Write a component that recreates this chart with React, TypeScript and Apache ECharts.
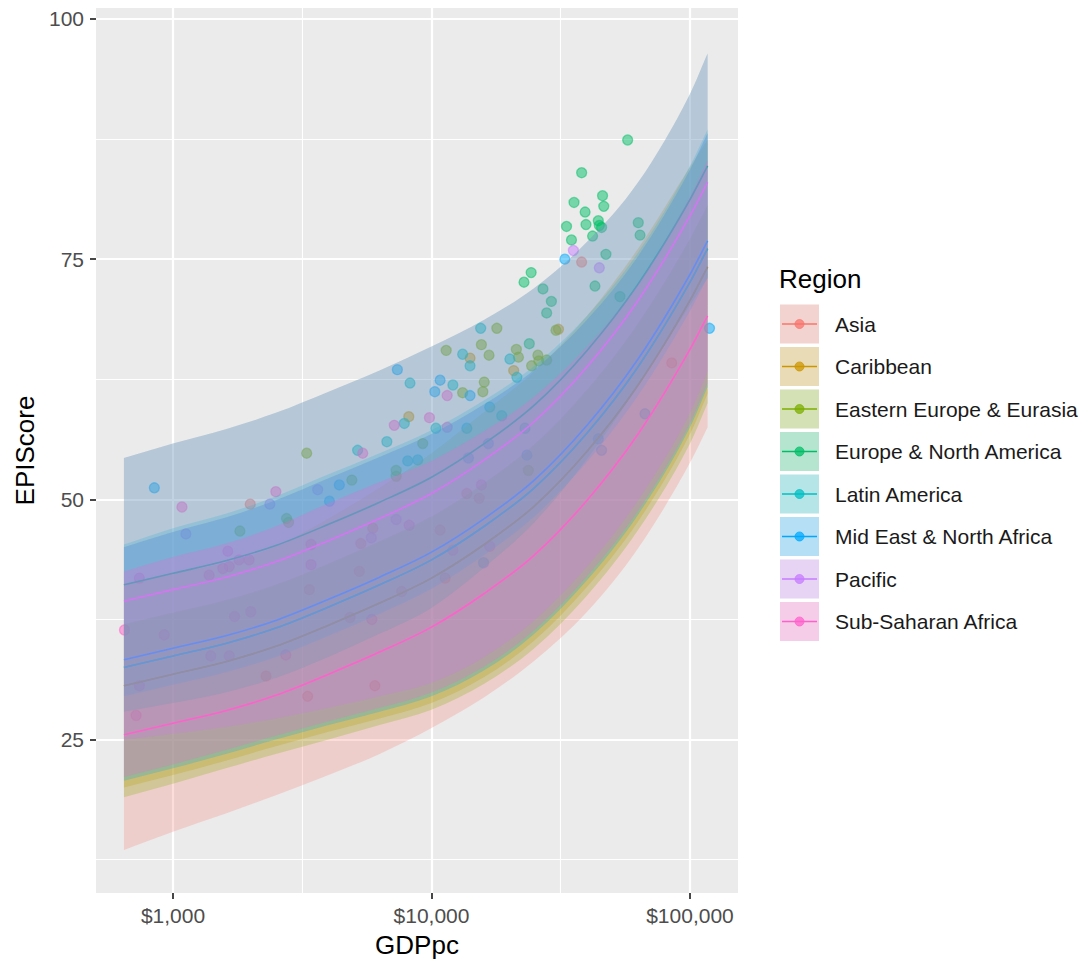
import React, { useEffect, useRef } from "react";
import * as echarts from "echarts";

// Regions, in plotting order, with the default ggplot hue palette
const regions = [
  "Asia",
  "Caribbean",
  "Eastern Europe & Eurasia",
  "Europe & North America",
  "Latin America",
  "Mid East & North Africa",
  "Pacific",
  "Sub-Saharan Africa",
];
const regionColors = ["#F8766D", "#CD9600", "#7CAE00", "#00BE67", "#00BFC4", "#00A9FF", "#C77CFF", "#FF61CC"];

// GDP per capita values at which the fitted curves and their confidence bands are evaluated
const gdpGrid = [646, 1000, 1600, 2500, 4000, 6300, 10000, 16000, 25000, 40000, 63000, 100000, 117000];

// Fitted EPI score and band limits per region
const fitAsia = [30.6, 31.8, 33.1, 34.7, 36.9, 39.2, 41.8, 45.3, 49.3, 55.0, 61.9, 70.7, 74.2];
const lowAsia = [13.5, 15.4, 17.3, 19.2, 21.3, 23.5, 26.2, 29.4, 33.2, 38.3, 44.9, 53.8, 57.5];
const highAsia = [45.0, 46.6, 48.1, 49.9, 52.2, 54.4, 56.8, 59.9, 63.5, 68.7, 75.3, 84.3, 88.1];

const fitCaribbean = [30.6, 31.8, 33.1, 34.7, 36.9, 39.2, 41.8, 45.3, 49.3, 55.0, 61.9, 70.7, 74.2];
const lowCaribbean = [20.0, 21.3, 22.8, 24.3, 25.8, 27.2, 28.8, 31.5, 35.3, 40.9, 47.7, 56.8, 61.0];
const highCaribbean = [41.2, 42.3, 43.4, 45.1, 48.0, 51.2, 54.8, 59.1, 63.3, 69.1, 76.1, 84.6, 87.4];

const fitEasternEurope = [32.5, 33.7, 35.0, 36.6, 38.8, 41.1, 43.7, 47.2, 51.2, 56.9, 63.8, 72.6, 76.1];
const lowEasternEurope = [19.0, 20.4, 22.0, 23.5, 25.0, 26.5, 28.1, 30.8, 34.5, 40.0, 46.8, 55.8, 60.0];
const highEasternEurope = [37.0, 38.2, 39.5, 41.1, 43.3, 45.6, 48.2, 51.7, 55.7, 61.4, 68.3, 77.1, 80.6];

const fitEuropeNA = [41.1, 42.3, 43.6, 45.2, 47.4, 49.7, 52.3, 55.8, 59.8, 65.5, 72.4, 81.2, 84.7];
const lowEuropeNA = [27.9, 28.8, 29.9, 31.4, 33.6, 36.0, 38.7, 42.9, 47.6, 54.2, 61.8, 70.2, 73.0];
const highEuropeNA = [54.3, 55.8, 57.3, 59.0, 61.2, 63.4, 65.9, 68.7, 72.0, 76.8, 83.0, 92.2, 96.4];

const fitLatinAmerica = [32.5, 33.7, 35.0, 36.6, 38.8, 41.1, 43.7, 47.2, 51.2, 56.9, 63.8, 72.6, 76.1];
const lowLatinAmerica = [29.5, 30.7, 32.0, 33.6, 35.8, 38.1, 40.7, 44.2, 48.2, 53.9, 60.8, 69.6, 73.1];
const highLatinAmerica = [45.3, 47.0, 48.5, 50.3, 52.6, 54.8, 57.2, 60.3, 63.9, 69.1, 75.7, 84.7, 88.5];

const fitMENA = [33.3, 34.5, 35.8, 37.4, 39.6, 41.9, 44.5, 48.0, 52.0, 57.7, 64.6, 73.4, 76.9];
const lowMENA = [20.7, 22.0, 23.5, 25.0, 26.5, 27.9, 29.5, 32.2, 36.0, 41.6, 48.4, 57.5, 61.7];
const highMENA = [45.0, 46.6, 48.1, 49.9, 52.2, 54.4, 56.8, 59.9, 63.5, 68.7, 75.3, 84.3, 88.1];

const fitPacific = [39.4, 40.6, 41.9, 43.5, 45.7, 48.0, 50.6, 54.1, 58.1, 63.8, 70.7, 79.5, 83.0];
const lowPacific = [25.0, 25.6, 26.3, 27.2, 28.3, 29.5, 30.9, 33.6, 37.4, 43.0, 49.9, 59.0, 63.3];
const highPacific = [54.3, 55.8, 57.3, 59.0, 61.2, 63.4, 65.9, 68.7, 72.0, 76.8, 83.0, 92.2, 96.4];

const fitSSA = [25.5, 26.7, 28.0, 29.6, 31.8, 34.1, 36.7, 40.2, 44.2, 49.9, 56.8, 65.6, 69.1];
const lowSSA = [21.1, 22.4, 23.9, 25.4, 26.9, 28.3, 29.9, 32.6, 36.4, 42.0, 48.8, 57.9, 62.1];
const highSSA = [42.5, 44.0, 45.4, 47.2, 49.6, 51.8, 54.0, 57.1, 60.7, 65.9, 72.5, 81.5, 85.3];

// Countries: [GDP per capita, EPI score]
const pointsAsia = [[38100, 74.7], [85000, 64.2], [6040, 30.6], [3320, 29.5], [2290, 31.6], [1990, 49.5], [15300, 50.1], [13700, 50.6], [10800, 46.8], [11300, 41.8], [7670, 40.4], [4840, 37.7], [5930, 47.0], [5330, 45.4], [5260, 42.5], [3370, 40.6]];
const pointsCaribbean = [[8170, 58.6], [14100, 64.7], [20800, 63.4], [31000, 67.7]];
const pointsEasternEurope = [[30300, 67.6], [21300, 65.6], [21700, 64.8], [25800, 65.0], [26000, 64.4], [27900, 64.5], [24400, 63.9], [15600, 66.1], [17900, 67.8], [16700, 65.0], [11400, 65.5], [16000, 62.2], [15800, 61.2], [3290, 54.8], [4920, 52.0], [2750, 48.0], [2800, 47.6], [1815, 46.7], [7300, 53.0], [7300, 52.4], [9250, 55.8], [13200, 61.1], [23700, 53.0]];
const pointsEuropeNA = [[57400, 87.4], [38100, 84.0], [45900, 81.6], [35600, 80.9], [46400, 80.5], [39300, 79.9], [63100, 78.8], [64100, 77.5], [39600, 78.6], [44200, 79.0], [44600, 78.5], [45500, 78.3], [33300, 78.4], [42000, 77.4], [34800, 77.0], [47300, 75.5], [42900, 72.2], [53600, 71.1], [24300, 73.6], [22800, 72.6], [27000, 71.9], [29100, 70.6], [27900, 69.4], [23900, 66.2]];
const pointsLatinAmerica = [[8260, 62.1], [12100, 61.9], [14100, 63.9], [20100, 64.6], [21400, 62.7], [7850, 57.9], [10400, 57.4], [6720, 56.0], [5180, 55.1], [8090, 54.0], [8850, 54.1], [13700, 57.4], [18700, 58.7], [16800, 59.6], [23000, 57.4], [15500, 67.8], [13200, 65.1]];
const pointsMENA = [[32800, 75.0], [119000, 67.8], [7380, 63.5], [10800, 62.4], [10300, 61.2], [14100, 60.8], [4400, 51.5], [847, 51.2], [4030, 49.8], [67000, 58.9], [45500, 55.1], [44200, 56.3], [16600, 55.8], [13900, 54.3], [23400, 54.6], [15900, 43.4]];
const pointsPacific = [[35400, 75.9], [44600, 74.1], [2370, 49.5], [3630, 51.0], [1122, 46.4], [7300, 47.9], [5850, 46.0]];
const pointsSSA = [[649, 36.4], [741, 41.8], [925, 35.9], [741, 30.6], [720, 27.5], [1083, 49.2], [2500, 50.8], [5420, 54.8], [7180, 57.7], [9820, 58.5], [11500, 60.8], [11500, 57.5], [15600, 51.5], [16800, 45.1], [12100, 44.7], [8200, 47.3], [3420, 45.3], [3420, 43.2], [1630, 44.6], [1380, 42.1], [1560, 42.8], [1650, 43.0], [1800, 43.7], [1970, 43.7], [1730, 37.8], [2000, 38.3], [1400, 33.7], [1650, 33.7], [2730, 33.8], [5880, 37.5]];

// Axis ticks and grid lines
const xTicks = [1000, 10000, 100000];
const xMinorTicks = [3162.28, 31622.8];
const yTicks = [25, 50, 75, 100];
const yMinorTicks = [12.5, 37.5, 62.5, 87.5];
const xRange = [503.7, 153400];
const yRange = [9.025, 101.14];

const regionData = [
  { fit: fitAsia, low: lowAsia, high: highAsia, points: pointsAsia },
  { fit: fitCaribbean, low: lowCaribbean, high: highCaribbean, points: pointsCaribbean },
  { fit: fitEasternEurope, low: lowEasternEurope, high: highEasternEurope, points: pointsEasternEurope },
  { fit: fitEuropeNA, low: lowEuropeNA, high: highEuropeNA, points: pointsEuropeNA },
  { fit: fitLatinAmerica, low: lowLatinAmerica, high: highLatinAmerica, points: pointsLatinAmerica },
  { fit: fitMENA, low: lowMENA, high: highMENA, points: pointsMENA },
  { fit: fitPacific, low: lowPacific, high: highPacific, points: pointsPacific },
  { fit: fitSSA, low: lowSSA, high: highSSA, points: pointsSSA },
];

const FONT = "'Liberation Sans', Arial, Helvetica, sans-serif";
const BAND_ALPHA = 0.25;

function rgba(hex: string, a: number) {
  const n = parseInt(hex.slice(1), 16);
  return `rgba(${(n >> 16) & 255},${(n >> 8) & 255},${n & 255},${a})`;
}

function formatDollars(v: number) {
  return "$" + Math.round(v).toLocaleString("en-US");
}

type Pt = number[];
type Seg = { p0: Pt; c1: Pt; c2: Pt; p1: Pt };

// Monotone cubic (Fritsch–Carlson) segments through pixel points with increasing x
function monotoneSegments(pts: Pt[]): Seg[] {
  const n = pts.length;
  const d: number[] = [];
  for (let i = 0; i < n - 1; i++) {
    d.push((pts[i + 1][1] - pts[i][1]) / (pts[i + 1][0] - pts[i][0]));
  }
  const m: number[] = new Array(n);
  m[0] = d[0];
  m[n - 1] = d[n - 2];
  for (let i = 1; i < n - 1; i++) {
    m[i] = d[i - 1] * d[i] <= 0 ? 0 : (d[i - 1] + d[i]) / 2;
  }
  for (let i = 0; i < n - 1; i++) {
    if (d[i] === 0) {
      m[i] = 0;
      m[i + 1] = 0;
      continue;
    }
    const a = m[i] / d[i];
    const b = m[i + 1] / d[i];
    const s = a * a + b * b;
    if (s > 9) {
      const t = 3 / Math.sqrt(s);
      m[i] = t * a * d[i];
      m[i + 1] = t * b * d[i];
    }
  }
  const segs: Seg[] = [];
  for (let i = 0; i < n - 1; i++) {
    const h = pts[i + 1][0] - pts[i][0];
    segs.push({
      p0: pts[i],
      c1: [pts[i][0] + h / 3, pts[i][1] + (m[i] * h) / 3],
      c2: [pts[i + 1][0] - h / 3, pts[i + 1][1] - (m[i + 1] * h) / 3],
      p1: pts[i + 1],
    });
  }
  return segs;
}

const f = (v: number) => v.toFixed(2);

function curvePath(pts: Pt[]) {
  const segs = monotoneSegments(pts);
  let s = `M${f(pts[0][0])},${f(pts[0][1])}`;
  segs.forEach((g) => {
    s += `C${f(g.c1[0])},${f(g.c1[1])} ${f(g.c2[0])},${f(g.c2[1])} ${f(g.p1[0])},${f(g.p1[1])}`;
  });
  return s;
}

function bandPath(upper: Pt[], lower: Pt[]) {
  let s = curvePath(upper);
  const segs = monotoneSegments(lower).reverse();
  const last = lower[lower.length - 1];
  s += `L${f(last[0])},${f(last[1])}`;
  segs.forEach((g) => {
    s += `C${f(g.c2[0])},${f(g.c2[1])} ${f(g.c1[0])},${f(g.c1[1])} ${f(g.p0[0])},${f(g.p0[1])}`;
  });
  return s + "Z";
}

export default function App() {
  const ref = useRef<HTMLDivElement>(null);

  useEffect(() => {
    if (!ref.current) return;
    const chart = echarts.init(ref.current, null, { renderer: "svg" });

    const gridLines = [
      ...xTicks.map((v) => ({ xAxis: v, lineStyle: { width: 2.2 } })),
      ...xMinorTicks.map((v) => ({ xAxis: v, lineStyle: { width: 1.1 } })),
      ...yTicks.map((v) => ({ yAxis: v, lineStyle: { width: 2.2 } })),
      ...yMinorTicks.map((v) => ({ yAxis: v, lineStyle: { width: 1.1 } })),
    ];

    const series: any[] = [];

    // Country points sit underneath the bands
    regionData.forEach((r, i) => {
      const c = regionColors[i];
      const s: any = {
        type: "scatter",
        name: regions[i],
        data: r.points,
        symbol: "circle",
        symbolSize: 10,
        z: 2,
        silent: true,
        itemStyle: { color: rgba(c, 0.62), borderColor: rgba(c, 0.62), borderWidth: 1.3 },
      };
      if (i === 0) {
        s.markLine = {
          silent: true,
          z: 1,
          symbol: ["none", "none"],
          label: { show: false },
          lineStyle: { color: "#FFFFFF", type: "solid" },
          emphasis: { disabled: true },
          data: gridLines,
        };
      }
      series.push(s);
    });

    // Confidence band and fitted curve for each region, drawn region after region
    regionData.forEach((r, i) => {
      const c = regionColors[i];
      series.push({
        type: "custom",
        name: regions[i] + " fit",
        coordinateSystem: "cartesian2d",
        data: [[gdpGrid[0], r.fit[0]]],
        z: 3,
        silent: true,
        clip: true,
        renderItem: (_params: any, api: any) => {
          const toPx = (vals: number[]) => gdpGrid.map((g, k) => api.coord([g, vals[k]]));
          return {
            type: "group",
            children: [
              {
                type: "path",
                shape: { pathData: bandPath(toPx(r.high), toPx(r.low)) },
                style: { fill: rgba(c, BAND_ALPHA), stroke: "none" },
              },
              {
                type: "path",
                shape: { pathData: curvePath(toPx(r.fit)) },
                style: { fill: "none", stroke: c, lineWidth: 1.6 },
              },
            ],
          };
        },
      });
    });

    // Legend: key box with band fill, line and point, then the region name
    const legendX = 780;
    const keyW = 39;
    const firstKeyY = 324;
    const keyStep = 42.5;
    const graphic: any[] = [
      {
        type: "text",
        x: legendX - 1,
        y: 279,
        style: { text: "Region", font: `26px ${FONT}`, fill: "#000000", verticalAlign: "middle" },
      },
    ];
    regions.forEach((name, i) => {
      const cy = firstKeyY + i * keyStep;
      const c = regionColors[i];
      graphic.push(
        { type: "rect", shape: { x: legendX, y: cy - keyW / 2, width: keyW, height: keyW }, style: { fill: "#F2F2F2" } },
        { type: "rect", shape: { x: legendX, y: cy - keyW / 2, width: keyW, height: keyW }, style: { fill: rgba(c, BAND_ALPHA) } },
        { type: "line", shape: { x1: legendX + 2, y1: cy, x2: legendX + keyW - 2, y2: cy }, style: { stroke: c, lineWidth: 1.6 } },
        { type: "circle", shape: { cx: legendX + keyW / 2, cy, r: 4.5 }, style: { fill: rgba(c, 0.75), stroke: rgba(c, 0.75), lineWidth: 1 } },
        { type: "text", x: 835, y: cy, style: { text: name, font: `21px ${FONT}`, fill: "#1A1A1A", verticalAlign: "middle" } }
      );
    });

    chart.setOption({
      animation: false,
      backgroundColor: "#FFFFFF",
      textStyle: { fontFamily: FONT },
      grid: {
        left: 96,
        right: 1089 - 738,
        top: 8,
        bottom: 963 - 896,
        show: true,
        backgroundColor: "#EBEBEB",
        borderWidth: 0,
        containLabel: false,
      },
      xAxis: {
        type: "log",
        logBase: 10,
        min: xRange[0],
        max: xRange[1],
        name: "GDPpc",
        nameLocation: "middle",
        nameGap: 39,
        nameTextStyle: { fontSize: 26, color: "#000000", fontFamily: FONT },
        axisLine: { show: false },
        axisTick: { show: true, length: 6, customValues: xTicks, lineStyle: { color: "#333333", width: 1.8 } },
        axisLabel: { customValues: xTicks, formatter: (v: number) => formatDollars(v), color: "#4D4D4D", fontSize: 21, margin: 12, fontFamily: FONT },
        splitLine: { show: false },
        minorSplitLine: { show: false },
      },
      yAxis: {
        type: "value",
        min: yRange[0],
        max: yRange[1],
        name: "EPIScore",
        nameLocation: "middle",
        nameGap: 55,
        nameTextStyle: { fontSize: 26, color: "#000000", fontFamily: FONT },
        axisLine: { show: false },
        axisTick: { show: true, length: 6, customValues: yTicks, lineStyle: { color: "#333333", width: 1.8 } },
        axisLabel: { customValues: yTicks, color: "#4D4D4D", fontSize: 21, margin: 12, fontFamily: FONT },
        splitLine: { show: false },
      },
      graphic,
      series,
    });

    return () => chart.dispose();
  }, []);

  return (
    <div
      ref={ref}
      style={{ position: "fixed", left: 0, top: 0, width: 1089, height: 963, background: "#FFFFFF" }}
    />
  );
}
